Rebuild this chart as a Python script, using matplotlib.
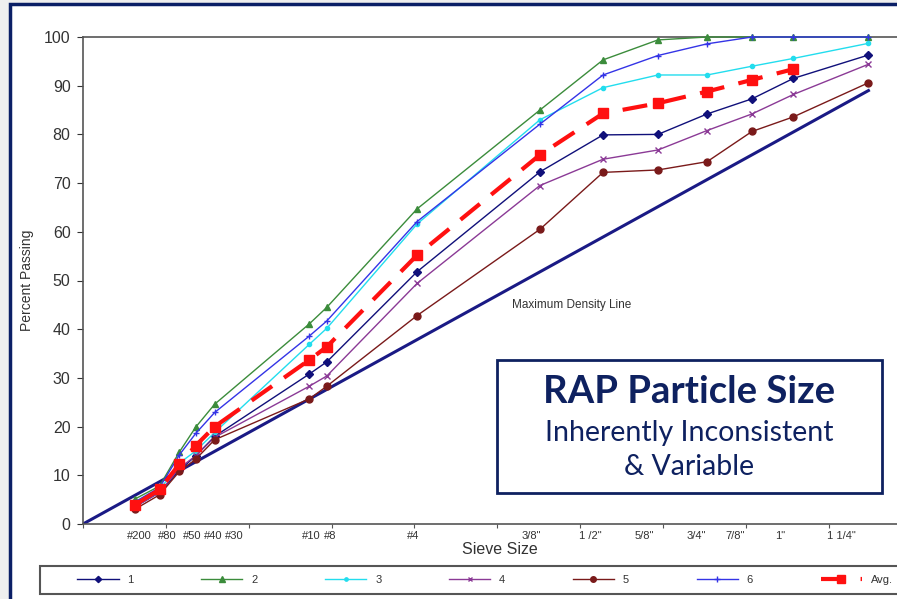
import numpy as np
import matplotlib
matplotlib.use("Agg")
import matplotlib.pyplot as plt
from matplotlib.patches import Rectangle

plt.rcParams["font.family"] = ["Liberation Sans", "DejaVu Sans"]

# sieve sizes (mm) and their labels, 0.45 power chart
sieve_labels = ["#200", "#80", "#50", "#40", "#30", "#10", "#8", "#4",
                '3/8"', '1 /2"', '5/8"', '3/4"', '7/8"', '1"', '1 1/4"']
sieve_mm = [0.075, 0.18, 0.3, 0.425, 0.6, 2.0, 2.36, 4.75,
            9.525, 12.7, 15.875, 19.05, 22.225, 25.4, 31.75]

s1 = [3.5, 6.5, 11.0, 14.0, 18.0, 30.8, 33.3, 51.8, 72.3, 79.9, 80.0, 84.2, 87.3, 91.5, 96.3]
s2 = [5.1, 7.8, 14.8, 19.9, 24.6, 41.1, 44.5, 64.7, 85.0, 95.3, 99.4, 100, 100, 100, 100]
s3 = [4.0, 7.0, 12.5, 15.0, 18.8, 36.9, 40.2, 61.6, 83.0, 89.6, 92.2, 92.2, 94.0, 95.6, 98.7]
s4 = [3.5, 6.5, 11.5, 14.0, 17.8, 28.3, 30.4, 49.4, 69.5, 74.9, 76.8, 80.8, 84.2, 88.2, 94.4]
s5 = [3.0, 6.0, 10.8, 13.3, 17.3, 25.7, 28.3, 42.8, 60.5, 72.2, 72.7, 74.4, 80.6, 83.6, 90.6]
s6 = [4.5, 7.5, 14.2, 18.6, 22.9, 38.6, 41.7, 62.1, 82.1, 92.2, 96.2, 98.6, 100, 100, 100]
avg = [3.9, 7.1, 12.3, 16.1, 20.0, 33.7, 36.4, 55.2, 75.8, 84.3, 86.4, 88.8, 91.2, 93.4]

max_density_mm = [0, 31.75]
max_density_pct = [0, 89]

# label nudges in pixels (labels in the original sit a bit off the sieve)
label_nudge = [5, 8, 13, 17, 20, 2, 3, -4, -9, -13, -14, -11, -17, -13, -27]

x = np.array(sieve_mm) ** 0.45

fig = plt.figure(figsize=(8.97, 5.99), dpi=100, facecolor="#efefef")
fig.patches.append(Rectangle((10 / 897, -0.05), 1.0, 1 - 4 / 599 + 0.05,
                             transform=fig.transFigure, facecolor="white",
                             edgecolor="#0b1f66", linewidth=2.5, zorder=-1))

ax = fig.add_axes([83 / 897, 75 / 599, 814 / 897, 487 / 599])
ax.set_facecolor("none")

ax.plot(np.array(max_density_mm) ** 0.45, max_density_pct, color="#1a1a85", lw=2.2, zorder=2)

styles = [
    (s1, "1", "#10107a", "D", 4),
    (s2, "2", "#3b8c3b", "^", 5),
    (s3, "3", "#22ddee", "o", 3),
    (s4, "4", "#8b3a96", "x", 4),
    (s5, "5", "#7a1a1a", "o", 5),
    (s6, "6", "#3434e6", "+", 5),
]
for vals, name, col, mk, ms in styles:
    ax.plot(x, vals, color=col, marker=mk, markersize=ms, lw=1, label=name,
            clip_on=False, zorder=3)
ax.plot(x[:len(avg)], avg, color="#ff1010", marker="s", markersize=7.5, lw=3,
        dashes=(6, 3.5), label="Avg.", clip_on=False, zorder=4)

ax.set_xlim(0, 814 / 165.7)
ax.set_ylim(0, 100)
ax.set_yticks(range(0, 101, 10))
ax.set_xticks(np.arange(0, 4.9, 0.5))
ax.set_xticklabels([])
ax.tick_params(axis="y", labelsize=11.5, colors="#333333", length=4, pad=5)
ax.tick_params(axis="x", length=3, colors="#555555")
for sp in ["left", "bottom", "top"]:
    ax.spines[sp].set_color("#555555")
    ax.spines[sp].set_linewidth(1.2)
ax.spines["right"].set_visible(False)

for xi, lab, dx in zip(x, sieve_labels, label_nudge):
    ax.annotate(lab, xy=(xi, 0), xycoords=("data", "axes fraction"),
                xytext=(dx * 0.72, -5), textcoords="offset points",
                ha="center", va="top", fontsize=8, color="#333333")

ax.text(2.59, 45, "Maximum Density Line", fontsize=8.5, color="#333333",
        ha="left", va="center")
fig.text(500 / 897, 1 - 550 / 599, "Sieve Size", fontsize=11.5, color="#333333",
         ha="center", va="center")
fig.text(27 / 897, 1 - 280 / 599, "Percent Passing", fontsize=10, color="#333333",
         rotation=90, ha="center", va="center")

# legend frame drawn separately, entries spread across it
fig.patches.append(Rectangle((40 / 897, 5 / 599), 900 / 897, 28 / 599,
                             transform=fig.transFigure, facecolor="white",
                             edgecolor="#555555", linewidth=1.5, zorder=1))
leg = fig.legend(loc="center left", ncol=7, mode="expand",
                 bbox_to_anchor=(73 / 897, 5 / 599, 824 / 897, 28 / 599),
                 fontsize=8, handlelength=3.7, frameon=False,
                 borderaxespad=0, markerscale=0.8)
for t in leg.get_texts():
    t.set_color("#333333")

# title box
navy = "#0e2160"
fig.patches.append(Rectangle((497 / 897, 1 - 493 / 599), 385 / 897, 133 / 599,
                             transform=fig.transFigure, facecolor="white",
                             edgecolor=navy, linewidth=2, zorder=5))
fig.text(689.5 / 897, 1 - 403 / 599, "RAP Particle Size", family="Lato",
         weight="bold", fontsize=27.5, color=navy, ha="center", va="baseline", zorder=6)
fig.text(689.5 / 897, 1 - 441.5 / 599, "Inherently Inconsistent", family="Lato",
         fontsize=20.5, color=navy, ha="center", va="baseline", zorder=6)
fig.text(689.5 / 897, 1 - 475 / 599, "& Variable", family="Lato",
         fontsize=20.5, color=navy, ha="center", va="baseline", zorder=6)

fig.savefig("out.png", dpi=100, facecolor=fig.get_facecolor())
